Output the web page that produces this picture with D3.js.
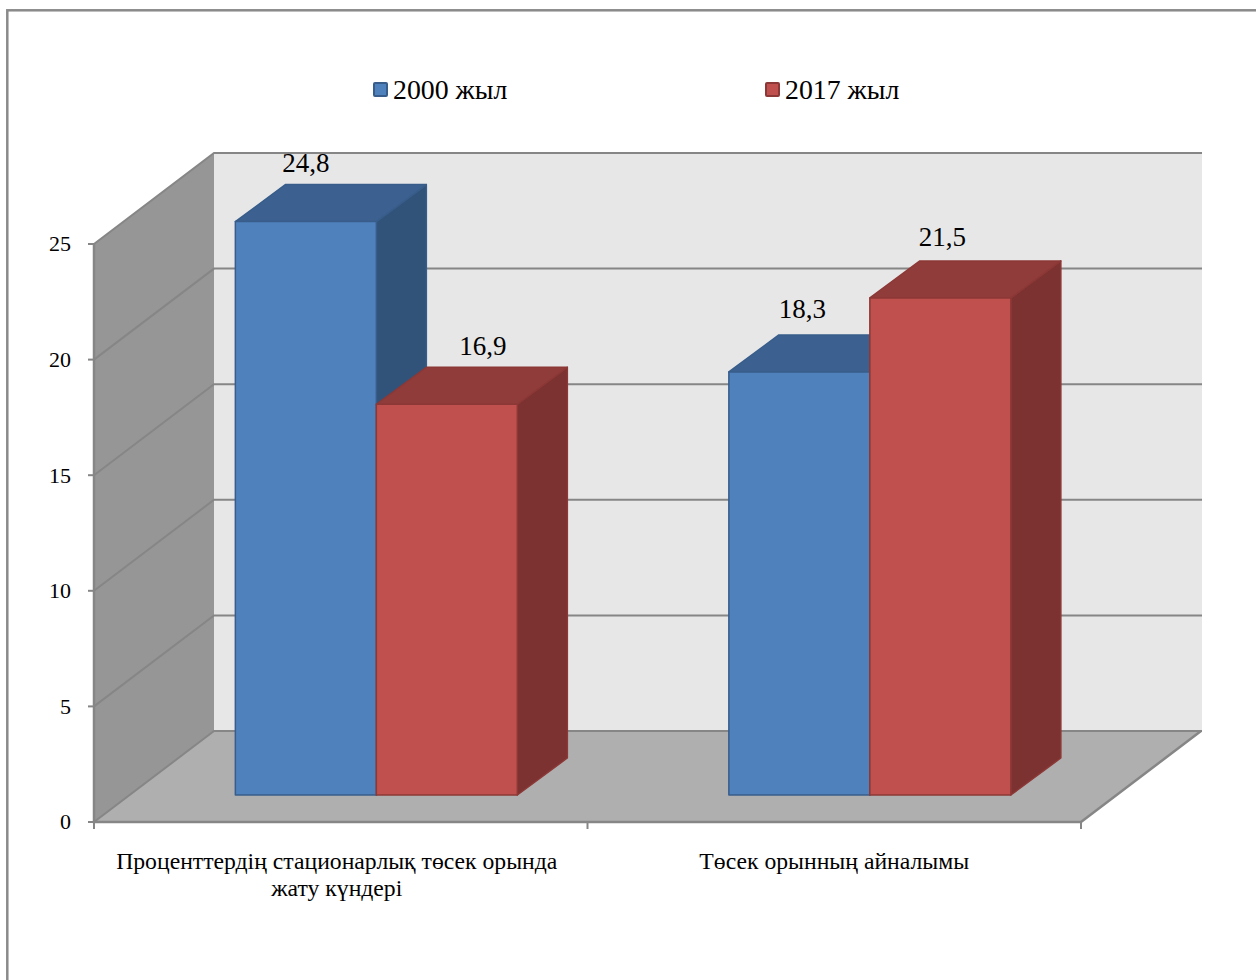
<!DOCTYPE html>
<html>
<head>
<meta charset="utf-8">
<script src="https://cdn.jsdelivr.net/npm/d3@7/dist/d3.min.js"></script>
<style>
html,body{margin:0;padding:0;background:#fff;overflow:hidden}
text{font-family:"Liberation Serif",serif;fill:#000}
</style>
</head>
<body>
<svg id="chart" width="1256" height="980"></svg>
<script>
const categories = [["Проценттердің стационарлық төсек орында", "жату күндері"], ["Төсек орынның айналымы"]];
const seriesNames = ["2000 жыл", "2017 жыл"];
const values2000 = [24.8, 18.3];
const values2017 = [16.9, 21.5];
const yTicks = [0, 5, 10, 15, 20, 25];

const fills = [
  {front:"#4f81bd", top:"#3c6190", side:"#325379", edge:"#385d8a"},
  {front:"#c0504d", top:"#8f3c3a", side:"#7b3231", edge:"#8c3836"}
];

const svg = d3.select("#chart");

// Plot frame: front floor edge at y(0), chart box projected up and to the right.
const x0 = 94, x1 = 1081, depthX = 120, depthY = 91;
const y = d3.scaleLinear().domain([0, 25]).range([822, 244]);
const xCat = d3.scaleBand().domain([0, 1]).range([x0, x1]);
const xBar = d3.scaleBand().domain([0, 1]).range([0, xCat.bandwidth()]).paddingInner(0).paddingOuter(0.75);

const poly = pts => d3.line()(pts) + "Z";

// Outer chart border runs off the right and bottom of the page
svg.append("rect").attr("x", 7.3).attr("y", 10.3).attr("width", 1270).attr("height", 1000)
  .attr("fill", "#fff").attr("stroke", "#8a8a8a").attr("stroke-width", 2.5);

const wallTop = y(25) - depthY, wallBottom = y(0) - depthY;

// Back wall
svg.append("rect").attr("x", x0 + depthX - 1).attr("y", wallTop)
  .attr("width", x1 - x0 + 2).attr("height", wallBottom - wallTop).attr("fill", "#e7e7e7");

// Side wall
svg.append("path")
  .attr("d", poly([[x0, y(25)], [x0 + depthX, wallTop], [x0 + depthX, wallBottom], [x0, y(0)]]))
  .attr("fill", "#969696");

// Floor
svg.append("path")
  .attr("d", poly([[x0, y(0)], [x0 + depthX, wallBottom], [x1 + depthX, wallBottom], [x1, y(0)]]))
  .attr("fill", "#afafaf");

// Gridlines on both walls
const grid = svg.append("g").attr("fill", "none").attr("stroke", "#868686").attr("stroke-width", 2);
yTicks.forEach(t => {
  grid.append("path").attr("d", d3.line()([[x0, y(t)], [x0 + depthX, y(t) - depthY], [x1 + depthX + 1, y(t) - depthY]]));
});
grid.append("path").attr("stroke-width", 2.5).attr("d", d3.line()([[x0, y(25)], [x0, y(0)], [x1, y(0)], [x1 + depthX, wallBottom]]));

// Axis ticks and labels
const axisY = svg.append("g");
yTicks.forEach(t => {
  axisY.append("line").attr("x1", x0 - 6).attr("x2", x0).attr("y1", y(t)).attr("y2", y(t))
    .attr("stroke", "#868686").attr("stroke-width", 2);
  axisY.append("text").attr("x", 71).attr("y", y(t)).attr("dy", "0.34em")
    .attr("text-anchor", "end").attr("font-size", 22).text(t);
});
[0, 1, 2].forEach(i => {
  const px = x0 + i * xCat.bandwidth();
  svg.append("line").attr("x1", px).attr("x2", px).attr("y1", y(0)).attr("y2", y(0) + 7)
    .attr("stroke", "#868686").attr("stroke-width", 2);
});
const categoryShift = [-4, 0];
categories.forEach((lines, i) => {
  lines.forEach((line, k) => {
    svg.append("text").attr("x", xCat(i) + xCat.bandwidth() / 2 + categoryShift[i])
      .attr("y", 869 + k * 27).attr("text-anchor", "middle").attr("font-size", 23.7).text(line);
  });
});

// Bars sit part-way into the depth of the floor
const barInsetX = 35.6, barInsetY = 27, barDepthX = 50, barDepthY = 37;
const series = [values2000, values2017];
// Label offsets from each bar's top centre, per series then category
const labelShift = [[[0, -50], [3, -54]], [[36, -49], [2, -52]]];
const labelsLayer = [];
categories.forEach((_, c) => {
  series.forEach((vals, s) => {
    const v = vals[c], st = fills[s];
    const left = xCat(c) + xBar(s) + barInsetX;
    const w = xBar.bandwidth();
    const bottom = y(0) - barInsetY;
    const top = bottom - (y(0) - y(v));
    const g = svg.append("g").attr("stroke", st.edge).attr("stroke-width", 1.5).attr("stroke-linejoin", "round");
    g.append("path").attr("fill", st.side)
      .attr("d", poly([[left + w, top], [left + w + barDepthX, top - barDepthY], [left + w + barDepthX, bottom - barDepthY], [left + w, bottom]]));
    g.append("path").attr("fill", st.top)
      .attr("d", poly([[left, top], [left + barDepthX, top - barDepthY], [left + w + barDepthX, top - barDepthY], [left + w, top]]));
    g.append("rect").attr("x", left).attr("y", top).attr("width", w).attr("height", bottom - top).attr("fill", st.front);
    labelsLayer.push({x: left + w / 2 + labelShift[s][c][0], y: top + labelShift[s][c][1], v});
  });
});

// Value labels above each bar
svg.selectAll("text.val").data(labelsLayer).join("text").attr("class", "val")
  .attr("x", d => d.x).attr("y", d => d.y)
  .attr("text-anchor", "middle").attr("font-size", 27)
  .text(d => String(d.v).replace(".", ","));

// Legend
const legendX = [373, 765];
seriesNames.forEach((name, i) => {
  svg.append("rect").attr("x", legendX[i] + 1).attr("y", 83).attr("width", 13).attr("height", 13)
    .attr("fill", fills[i].front).attr("stroke", fills[i].edge).attr("stroke-width", 2).attr("rx", 1);
  svg.append("text").attr("x", legendX[i] + 20).attr("y", 99).attr("font-size", 27.8).text(name);
});
</script>
</body>
</html>
